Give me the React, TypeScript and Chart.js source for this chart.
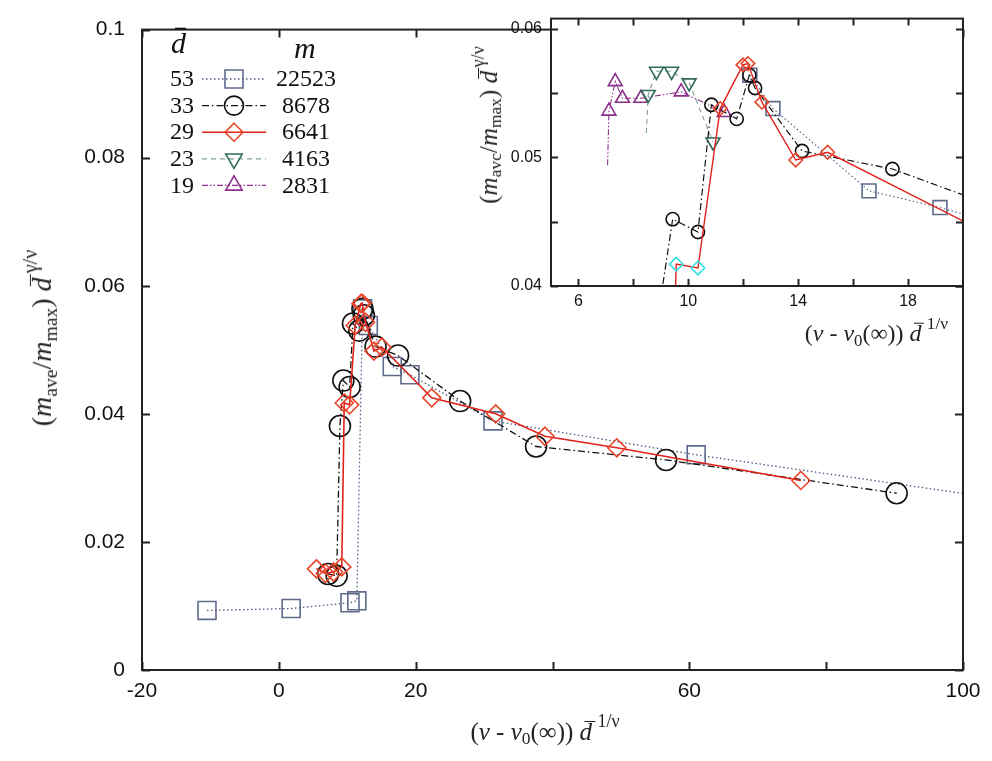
import React, { useEffect, useRef } from 'react';
import { Chart, registerables } from 'chart.js';

Chart.register(...registerables);

const SANS = '"Liberation Sans", Arial, Helvetica, sans-serif';
const SERIF = '"Liberation Serif", "Times New Roman", Times, serif';

// ---- data (x = (nu - nu0(inf)) d^(1/nu), y = (m_ave/m_max) d^(gamma/nu)) ----
// d = 53, m = 22523 (squares)
const sqX = [-10.5, 1.8, 10.4, 11.4, 12.24, 13.08, 16.58, 19.16, 31.3, 61.0, 105];
const sqY = [0.0093, 0.0096, 0.0105, 0.0108, 0.0564, 0.0538, 0.0474, 0.0461, 0.0389, 0.0336, 0.0268];
// d = 33, m = 8678 (circles)
const ciX = [7.2, 8.45, 8.93, 9.43, 10.35, 10.84, 11.76, 12.22, 12.43, 14.14, 17.43, 26.5, 37.6, 56.6, 90.3];
const ciY = [0.015, 0.0147, 0.0381, 0.0452, 0.0442, 0.0541, 0.053, 0.0564, 0.0554, 0.0505, 0.0491, 0.042, 0.0349, 0.0328, 0.0276];
// d = 29, m = 6641 (diamonds)
const diX = [5.5, 6.8, 8.0, 9.2, 9.56, 10.35, 11.16, 11.99, 12.17, 12.68, 13.91, 15.07, 22.35, 31.7, 38.9, 49.4, 76.3];
const diY = [0.0158, 0.0151, 0.0153, 0.0161, 0.0417, 0.0414, 0.0538, 0.0572, 0.0573, 0.0543, 0.0498, 0.0504, 0.0425, 0.04, 0.0365, 0.0347, 0.0296];
// d = 23, m = 4163 (down triangles) - first point is a lead-in without marker
const dtX = [8.47, 8.54, 8.84, 9.39, 10.03, 10.9];
const dtY = [0.0519, 0.0549, 0.0567, 0.0567, 0.0558, 0.0512];
// d = 19, m = 2831 (up triangles) - first point is a lead-in without marker
const utX = [7.06, 7.11, 7.34, 7.6, 8.27, 9.74, 11.31];
const utY = [0.0494, 0.0536, 0.0559, 0.0546, 0.0546, 0.0551, 0.0535];

// legend columns
const legendD = ['53', '33', '29', '23', '19'];
const legendM = ['22523', '8678', '6641', '4163', '2831'];

// ticks
const mainXTicks = [-20, 0, 20, 40, 60, 80, 100];
const mainXLabels = ['-20', '0', '20', '', '60', '', '100'];
const mainYTicks = [0, 0.02, 0.04, 0.06, 0.08, 0.1];
const mainYLabels = ['0', '0.02', '0.04', '0.06', '0.08', '0.1'];
const insetXTicks = [6, 8, 10, 12, 14, 16, 18];
const insetXLabels = ['6', '', '10', '', '14', '', '18'];
const insetYTicks = [0.04, 0.045, 0.05, 0.055, 0.06];
const insetYLabels = ['0.04', '', '0.05', '', '0.06'];
const insetCyanPoints = [4, 5];
const insetSquareStart = 4; // the inset shows the d=53 curve from its jump onward

type Shape = 'rect' | 'circle' | 'rectRot' | 'triangle' | 'triangleDown';
interface SStyle { line: string; marker: string; dash: number[]; shape: Shape; width: number; }

const ST: Record<string, SStyle> = {
  sq: { line: '#4d5a82', marker: '#5f6a8c', dash: [1.5, 2.5], shape: 'rect', width: 1.3 },
  ci: { line: '#111111', marker: '#111111', dash: [7, 3, 1.5, 3], shape: 'circle', width: 1.3 },
  di: { line: '#e0221b', marker: '#e8452a', dash: [], shape: 'rectRot', width: 1.6 },
  dt: { line: '#7f9f95', marker: '#2f6a5a', dash: [5, 4], shape: 'triangleDown', width: 1.3 },
  ut: { line: '#8c2e8c', marker: '#8c2e8c', dash: [6, 2, 1.5, 2, 1.5, 2], shape: 'triangle', width: 1.3 },
};
const legendOrder = ['sq', 'ci', 'di', 'dt', 'ut'];

const xy = (xs: number[], ys: number[]) => xs.map((x, i) => ({ x, y: ys[i] }));

function ds(key: string, xs: number[], ys: number[], radius: any, extra: any = {}) {
  const s = ST[key];
  const shape = s.shape === 'triangleDown' ? 'triangle' : s.shape;
  return {
    data: xy(xs, ys),
    showLine: true,
    borderColor: s.line,
    borderWidth: s.width,
    borderDash: s.dash,
    tension: 0,
    fill: false,
    pointStyle: shape,
    rotation: s.shape === 'triangleDown' ? 180 : 0,
    pointRotation: s.shape === 'triangleDown' ? 180 : 0,
    pointRadius: radius,
    pointBorderColor: s.marker,
    pointBackgroundColor: 'rgba(0,0,0,0)',
    pointBorderWidth: 1.6,
    ...extra,
  };
}

function drawMarker(ctx: CanvasRenderingContext2D, shape: Shape, x: number, y: number, r: number) {
  ctx.beginPath();
  if (shape === 'rect') {
    const h = r * Math.SQRT1_2;
    ctx.rect(x - h, y - h, 2 * h, 2 * h);
  } else if (shape === 'circle') {
    ctx.arc(x, y, r, 0, Math.PI * 2);
  } else if (shape === 'rectRot') {
    ctx.moveTo(x, y - r); ctx.lineTo(x + r, y); ctx.lineTo(x, y + r); ctx.lineTo(x - r, y); ctx.closePath();
  } else {
    const s = shape === 'triangle' ? 1 : -1;
    ctx.moveTo(x, y - s * r);
    ctx.lineTo(x + 0.866 * r, y + s * 0.5 * r);
    ctx.lineTo(x - 0.866 * r, y + s * 0.5 * r);
    ctx.closePath();
  }
  ctx.stroke();
}

function frameTicks(len: number, lw: number, fillWhite: boolean) {
  return {
    id: 'frameTicks',
    beforeDatasetsDraw(chart: any) {
      if (!fillWhite) return;
      const a = chart.chartArea;
      const ctx = chart.ctx;
      ctx.save();
      ctx.fillStyle = '#ffffff';
      ctx.fillRect(a.left, a.top, a.right - a.left, a.bottom - a.top);
      ctx.restore();
    },
    afterDraw(chart: any) {
      const { ctx, chartArea: a, scales } = chart;
      ctx.save();
      ctx.strokeStyle = '#222';
      ctx.lineWidth = lw;
      ctx.setLineDash([]);
      ctx.beginPath();
      scales.x.ticks.forEach((t: any) => {
        const p = Math.round(scales.x.getPixelForValue(t.value)) + 0.5;
        ctx.moveTo(p, a.bottom); ctx.lineTo(p, a.bottom - len);
        ctx.moveTo(p, a.top); ctx.lineTo(p, a.top + len);
      });
      scales.y.ticks.forEach((t: any) => {
        const p = Math.round(scales.y.getPixelForValue(t.value)) + 0.5;
        ctx.moveTo(a.left, p); ctx.lineTo(a.left + len, p);
        ctx.moveTo(a.right, p); ctx.lineTo(a.right - len, p);
      });
      ctx.stroke();
      ctx.strokeRect(a.left, a.top, a.right - a.left, a.bottom - a.top);
      ctx.restore();
    },
  };
}

const legendPlugin = {
  id: 'customLegend',
  afterDraw(chart: any) {
    const ctx: CanvasRenderingContext2D = chart.ctx;
    ctx.save();
    ctx.fillStyle = '#111';
    ctx.strokeStyle = '#111';
    ctx.font = `italic 30px ${SERIF}`;
    ctx.textAlign = 'left';
    ctx.textBaseline = 'alphabetic';
    ctx.fillText('d', 171, 53);
    ctx.lineWidth = 1.6;
    ctx.beginPath();
    ctx.moveTo(175, 28.5); ctx.lineTo(186, 28.5);
    ctx.stroke();
    ctx.fillText('m', 294, 58);
    legendOrder.forEach((key, i) => {
      const s = ST[key];
      const y = 79 + i * 26.6;
      ctx.font = `24px ${SERIF}`;
      ctx.textBaseline = 'middle';
      ctx.fillStyle = '#111';
      ctx.textAlign = 'right';
      ctx.fillText(legendD[i], 194, y + 1);
      ctx.textAlign = 'center';
      ctx.fillText(legendM[i], 306, y + 1);
      ctx.strokeStyle = s.line;
      ctx.lineWidth = s.width;
      ctx.setLineDash(s.dash);
      ctx.beginPath();
      ctx.moveTo(202, y); ctx.lineTo(266, y);
      ctx.stroke();
      ctx.setLineDash([]);
      ctx.strokeStyle = s.marker;
      ctx.lineWidth = 1.6;
      const r = s.shape === 'rect' ? 12.7 : s.shape === 'circle' ? 9.5 : s.shape === 'rectRot' ? 9 : 9.5;
      drawMarker(ctx, s.shape, 234, y, r);
    });
    ctx.restore();
  },
};

const sub: React.CSSProperties = { fontSize: '0.7em', verticalAlign: '-0.28em', fontStyle: 'normal' };
const sup: React.CSSProperties = { fontSize: '0.72em', verticalAlign: '0.7em', fontStyle: 'normal' };

const Dbar = () => (
  <span style={{ position: 'relative', fontStyle: 'italic', display: 'inline-block' }}>
    d
    <span style={{ position: 'absolute', left: '0.2em', top: '0.08em', width: '0.42em', borderTop: '1.5px solid #222' }} />
  </span>
);

const NuTitle = () => (
  <>
    (<i>ν</i> - <i>ν</i><span style={sub}>0</span>(∞)) <Dbar /><span style={{ ...sup, marginLeft: '0.3em' }}>1/ν</span>
  </>
);

const MTitle = ({ s }: { s: string }) => (
  <>
    (<i>m</i><span style={sub}>{s}</span>/<i>m</i><span style={sub}>max</span>) <Dbar /><span style={{ ...sup, marginLeft: '0.2em' }}>γ/ν</span>
  </>
);

export default function App() {
  const mainRef = useRef<HTMLCanvasElement>(null);
  const insetRef = useRef<HTMLCanvasElement>(null);

  useEffect(() => {
    document.body.style.margin = '0';
    const tickFont = (size: number) => ({ family: SANS, size });

    const main = new Chart(mainRef.current as HTMLCanvasElement, {
      type: 'scatter',
      data: {
        datasets: [
          ds('di', diX, diY, 9),
          ds('ci', ciX, ciY, 10.5),
          ds('sq', sqX, sqY, 12.7),
        ] as any,
      },
      options: {
        animation: false,
        responsive: false,
        devicePixelRatio: 1,
        events: [],
        layout: { padding: { left: 0, right: 29, top: 15, bottom: 0 } },
        plugins: { legend: { display: false }, tooltip: { enabled: false } },
        scales: {
          x: {
            type: 'linear', min: -20, max: 100,
            grid: { display: false, drawTicks: false },
            border: { display: false },
            afterBuildTicks: (s: any) => { s.ticks = mainXTicks.map((v) => ({ value: v })); },
            afterFit: (s: any) => { s.height = 91; },
            ticks: {
              callback: (_v: any, i: number) => mainXLabels[i],
              font: tickFont(21), color: '#111', padding: 9, maxRotation: 0, autoSkip: false,
            },
          },
          y: {
            type: 'linear', min: 0, max: 0.1,
            grid: { display: false, drawTicks: false },
            border: { display: false },
            afterBuildTicks: (s: any) => { s.ticks = mainYTicks.map((v) => ({ value: v })); },
            afterFit: (s: any) => { s.width = 142; },
            ticks: {
              callback: (_v: any, i: number) => mainYLabels[i],
              font: tickFont(21), color: '#111', padding: 17, autoSkip: false,
            },
          },
        },
      } as any,
      plugins: [frameTicks(8, 2, false), legendPlugin],
    });

    const inset = new Chart(insetRef.current as HTMLCanvasElement, {
      type: 'scatter',
      data: {
        datasets: [
          ds('di', diX, diY, 6.8, {
            pointBorderColor: (c: any) => (insetCyanPoints.includes(c.dataIndex) ? '#2fe3e3' : ST.di.marker),
            borderWidth: 1.4,
          }),
          ds('ci', ciX, ciY, 6.6, { borderWidth: 1.2 }),
          ds('sq', sqX.slice(insetSquareStart), sqY.slice(insetSquareStart), 9.8, { borderWidth: 1.1 }),
          ds('dt', dtX, dtY, (c: any) => (c.dataIndex === 0 ? 0 : 8), { borderWidth: 1.1 }),
          ds('ut', utX, utY, (c: any) => (c.dataIndex === 0 ? 0 : 8), { borderWidth: 1.1 }),
        ] as any,
      },
      options: {
        animation: false,
        responsive: false,
        devicePixelRatio: 1,
        events: [],
        layout: { padding: { left: 0, right: 29, top: 15, bottom: 0 } },
        plugins: { legend: { display: false }, tooltip: { enabled: false } },
        scales: {
          x: {
            type: 'linear', min: 5, max: 20,
            grid: { display: false, drawTicks: false },
            border: { display: false },
            afterBuildTicks: (s: any) => { s.ticks = insetXTicks.map((v) => ({ value: v })); },
            afterFit: (s: any) => { s.height = 74; },
            ticks: {
              callback: (_v: any, i: number) => insetXLabels[i],
              font: tickFont(16), color: '#111', padding: 6, maxRotation: 0, autoSkip: false,
            },
          },
          y: {
            type: 'linear', min: 0.04, max: 0.0608,
            grid: { display: false, drawTicks: false },
            border: { display: false },
            afterBuildTicks: (s: any) => { s.ticks = insetYTicks.map((v) => ({ value: v })); },
            afterFit: (s: any) => { s.width = 111; },
            ticks: {
              callback: (_v: any, i: number) => insetYLabels[i],
              font: tickFont(16), color: '#111', padding: 9, autoSkip: false,
            },
          },
        },
      } as any,
      plugins: [frameTicks(7, 2, true)],
    });

    return () => {
      main.destroy();
      inset.destroy();
    };
  }, []);

  return (
    <div style={{ position: 'absolute', left: 0, top: 0, width: 992, height: 761, background: '#fff', overflow: 'hidden', color: '#222' }}>
      <canvas ref={mainRef} width={992} height={761} style={{ position: 'absolute', left: 0, top: 0, width: 992, height: 761 }} />
      <canvas ref={insetRef} width={552} height={360} style={{ position: 'absolute', left: 440, top: 0, width: 552, height: 360 }} />
      <div style={{ position: 'absolute', left: 40, top: 338, transform: 'translate(-50%, -50%) rotate(-90deg)', whiteSpace: 'nowrap', fontFamily: SERIF, fontSize: 28, lineHeight: 1 }}>
        <MTitle s="ave" />
      </div>
      <div style={{ position: 'absolute', left: 545, top: 730, transform: 'translate(-50%, -50%)', whiteSpace: 'nowrap', fontFamily: SERIF, fontSize: 25, lineHeight: 1 }}>
        <NuTitle />
      </div>
      <div style={{ position: 'absolute', left: 487, top: 125, transform: 'translate(-50%, -50%) rotate(-90deg)', whiteSpace: 'nowrap', fontFamily: SERIF, fontSize: 25, lineHeight: 1 }}>
        <MTitle s="avc" />
      </div>
      <div style={{ position: 'absolute', right: 44, top: 332, transform: 'translateY(-50%)', whiteSpace: 'nowrap', fontFamily: SERIF, fontSize: 24, lineHeight: 1 }}>
        <NuTitle />
      </div>
    </div>
  );
}
